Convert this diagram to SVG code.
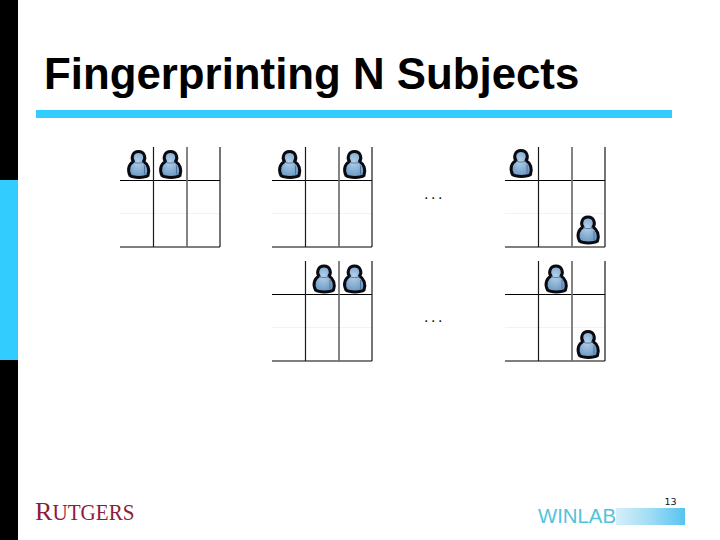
<svg xmlns="http://www.w3.org/2000/svg" width="720" height="540" viewBox="0 0 720 540">
<style>
.title{font:bold 43.800px "Liberation Sans",Arial,sans-serif;fill:#000}
.dots{font:16px "Liberation Sans",Arial,sans-serif;fill:#111;letter-spacing:2.500px}
.h{stroke:#000;stroke-width:1.200;fill:none}
.v{stroke:#1a1a1a;stroke-width:1.200;fill:none}
.g{stroke:#6e6e6e;stroke-width:1.700;fill:none}
.f{stroke:#f2f2f2;stroke-width:1;fill:none}
</style>
<defs>
<linearGradient id="bar" x1="0" y1="0" x2="1" y2="0"><stop offset="0" stop-color="#d6eff9"/><stop offset="0.5" stop-color="#9fdcf5"/><stop offset="1" stop-color="#56c4ef"/></linearGradient>
<radialGradient id="pg" cx="0.45" cy="0.4" r="0.7"><stop offset="0" stop-color="#b5d2ea"/><stop offset="1" stop-color="#5f8fbd"/></radialGradient>
<g id="person">
<path d="M-8.500 25C-11.500 19-9.500 13.500-5 11C-7.500 8-6.500 1 0 1C6.500 1 7.500 8 5 11C9.500 13.500 11.500 19 9.500 25C6 27.500-5 27.500-8.500 25Z" fill="url(#pg)" stroke="#0a0a10" stroke-width="3" stroke-linejoin="round"/>
<path d="M-5 11.500C-2 13 2 13 5 11.500M6 15V24" fill="none" stroke="#46688c" stroke-width="0.800"/>
</g>
<g id="grid">
<path class="h" d="M0 33.500H100M0 100H100"/>
<path class="f" d="M0 66.500H100"/>
<path class="v" d="M33.500 0V100M100 0V100"/>
<path class="g" d="M67 0V100"/>
</g>
</defs>
<rect width="720" height="540" fill="#fff"/>
<g id="sidebar">
<rect x="0" y="0" width="18" height="540" fill="#000"/>
<rect x="0" y="180" width="18" height="180" fill="#33ccff"/>
</g>
<text class="title" x="44" y="89">Fingerprinting N Subjects</text>
<rect id="title-rule" x="36" y="110" width="636" height="8" fill="#33ccff"/>
<g id="panel-1"><use href="#grid" x="120" y="147"/><use href="#person" x="138.500" y="150.500"/><use href="#person" x="170.500" y="150.500"/></g>
<g id="panel-2"><use href="#grid" x="272" y="147"/><use href="#person" x="289.500" y="150.500"/><use href="#person" x="354.500" y="150.500"/></g>
<g id="panel-3"><use href="#grid" x="505" y="147"/><use href="#person" x="521" y="149.500"/><use href="#person" x="588" y="216"/></g>
<g id="panel-4"><use href="#grid" x="272" y="261"/><use href="#person" x="324" y="265"/><use href="#person" x="354.500" y="265"/></g>
<g id="panel-5"><use href="#grid" x="505" y="261"/><use href="#person" x="556" y="265"/><use href="#person" x="588" y="330.500"/></g>
<text class="dots" x="424" y="199">...</text>
<text class="dots" x="424" y="322">...</text>
<g id="rutgers"><text x="35" y="520" font-family="Liberation Serif,serif" font-size="26" fill="#8e1b3c">R</text><text x="52.500" y="520" font-family="Liberation Serif,serif" font-size="23" fill="#8e1b3c" textLength="82" lengthAdjust="spacingAndGlyphs">UTGERS</text></g>
<g id="winlab">
<rect x="616" y="508" width="69" height="17" fill="url(#bar)"/>
<text x="538" y="522.500" font-family="Liberation Sans,Arial,sans-serif" font-size="20" fill="#4fc3dc" textLength="78" lengthAdjust="spacingAndGlyphs">WINLAB</text>
<text x="664.500" y="505" font-family="DejaVu Sans,sans-serif" font-size="9.500" fill="#111">13</text>
</g>
</svg>
